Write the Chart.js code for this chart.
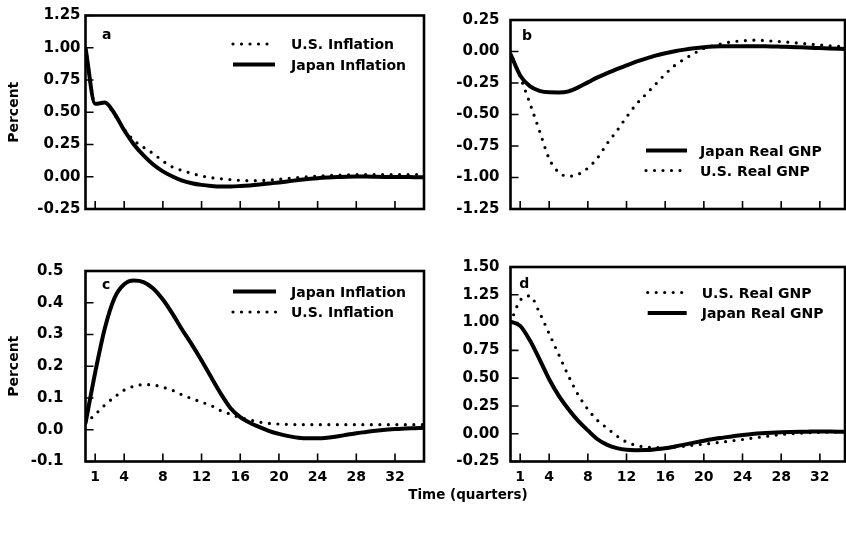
<!DOCTYPE html>
<html>
<head>
<meta charset="utf-8">
<title>Impulse responses</title>
<script src="https://cdn.jsdelivr.net/npm/chart.js@4.4.0/dist/chart.umd.min.js"></script>
<style>
  body { margin: 0; background: #fff; }
  #wrap { position: relative; width: 846px; height: 535px; overflow: hidden; background: #fff; }
  .panel { position: absolute; }
  #xtitle {
    position: absolute; left: 368px; width: 200px; top: 486px;
    text-align: center; font: bold 13.5px "DejaVu Sans"; color: #000;
  }
</style>
</head>
<body>
<div id="wrap">
  <div class="panel" style="left:0;top:0"><canvas id="pa" width="430" height="240"></canvas></div>
  <div class="panel" style="left:430px;top:0"><canvas id="pb" width="416" height="240"></canvas></div>
  <div class="panel" style="left:0;top:240px"><canvas id="pc" width="430" height="260"></canvas></div>
  <div class="panel" style="left:430px;top:240px"><canvas id="pd" width="416" height="260"></canvas></div>
  <div id="xtitle">Time (quarters)</div>
</div>
<script>
// Quarters after the shock
const QUARTERS = [0, 1, 2, 3, 4, 5, 6, 7, 8, 9, 10, 11, 12, 13, 14, 15, 16, 17,
  18, 19, 20, 21, 22, 23, 24, 25, 26, 27, 28, 29, 30, 31, 32, 33, 34, 35];
const X_TICKS = [1, 4, 8, 12, 16, 20, 24, 28, 32];
const X_LABELS = ['1', '4', '8', '12', '16', '20', '24', '28', '32'];

// Panel a
const A_US_INFLATION = [1.00, 0.565, 0.575, 0.48, 0.368, 0.282, 0.228, 0.18, 0.122, 0.075, 0.048, 0.026,
  0.006, -0.007, -0.016, -0.022, -0.028, -0.031, -0.03, -0.026, -0.02, -0.013, -0.006, 0.0,
  0.005, 0.009, 0.012, 0.014, 0.016, 0.017, 0.017, 0.017, 0.017, 0.017, 0.017, 0.017];
const A_JAPAN_INFLATION = [1.00, 0.565, 0.575, 0.49, 0.36, 0.25, 0.165, 0.095, 0.042, 0.002, -0.03, -0.05,
  -0.063, -0.071, -0.075, -0.075, -0.072, -0.067, -0.06, -0.052, -0.044, -0.035, -0.026, -0.018,
  -0.011, -0.006, -0.002, 0.0, 0.001, 0.001, 0.0, -0.001, -0.002, -0.002, -0.003, -0.003];
const A_Y_TICKS = [-0.25, 0, 0.25, 0.5, 0.75, 1.0, 1.25];
const A_Y_LABELS = ['-0.25', '0.00', '0.25', '0.50', '0.75', '1.00', '1.25'];

// Panel b
const B_JAPAN_GNP = [-0.02, -0.19, -0.275, -0.312, -0.324, -0.325, -0.316, -0.285, -0.245, -0.205, -0.172, -0.14,
  -0.11, -0.081, -0.056, -0.033, -0.014, 0.002, 0.015, 0.026, 0.034, 0.039, 0.041, 0.042,
  0.042, 0.042, 0.041, 0.04, 0.038, 0.036, 0.033, 0.03, 0.027, 0.024, 0.021, 0.018];
const B_US_GNP = [0.0, -0.2, -0.41, -0.63, -0.85, -0.96, -0.99, -0.975, -0.925, -0.845, -0.73, -0.63,
  -0.52, -0.42, -0.34, -0.26, -0.18, -0.11, -0.06, -0.015, 0.025, 0.045, 0.065, 0.078,
  0.085, 0.09, 0.088, 0.083, 0.078, 0.072, 0.065, 0.058, 0.052, 0.045, 0.04, 0.035];
const B_Y_TICKS = [-1.25, -1.0, -0.75, -0.5, -0.25, 0, 0.25];
const B_Y_LABELS = ['-1.25', '-1.00', '-0.75', '-0.50', '-0.25', '0.00', '0.25'];

// Panel c
const C_JAPAN_INFLATION = [0.02, 0.18, 0.32, 0.415, 0.458, 0.47, 0.465, 0.445, 0.41, 0.365, 0.315, 0.268,
  0.218, 0.165, 0.113, 0.068, 0.04, 0.022, 0.008, -0.004, -0.013, -0.02, -0.025, -0.027,
  -0.027, -0.025, -0.021, -0.016, -0.011, -0.007, -0.003, 0.0, 0.002, 0.004, 0.005, 0.006];
const C_US_INFLATION = [0.02, 0.048, 0.078, 0.103, 0.125, 0.137, 0.142, 0.141, 0.134, 0.124, 0.11, 0.098,
  0.087, 0.076, 0.06, 0.049, 0.038, 0.031, 0.024, 0.02, 0.018, 0.017, 0.016, 0.016,
  0.016, 0.016, 0.016, 0.016, 0.016, 0.016, 0.016, 0.016, 0.016, 0.016, 0.016, 0.016];
const C_Y_TICKS = [-0.1, 0, 0.1, 0.2, 0.3, 0.4, 0.5];
const C_Y_LABELS = ['-0.1', '0.0', '0.1', '0.2', '0.3', '0.4', '0.5'];

// Panel d
const D_US_GNP = [1.0, 1.2, 1.24, 1.09, 0.9, 0.71, 0.52, 0.35, 0.22, 0.12, 0.05, -0.02,
  -0.075, -0.105, -0.12, -0.125, -0.125, -0.12, -0.112, -0.102, -0.094, -0.085, -0.074, -0.063,
  -0.052, -0.04, -0.029, -0.018, -0.007, 0.0, 0.005, 0.009, 0.012, 0.014, 0.015, 0.016];
const D_JAPAN_GNP = [1.01, 0.97, 0.84, 0.67, 0.49, 0.34, 0.22, 0.115, 0.03, -0.05, -0.1, -0.13,
  -0.145, -0.148, -0.147, -0.14, -0.13, -0.115, -0.098, -0.08, -0.063, -0.048, -0.035, -0.022,
  -0.012, -0.003, 0.004, 0.009, 0.013, 0.016, 0.018, 0.019, 0.02, 0.019, 0.018, 0.017];
const D_Y_TICKS = [-0.25, 0, 0.25, 0.5, 0.75, 1.0, 1.25, 1.5];
const D_Y_LABELS = ['-0.25', '0.00', '0.25', '0.50', '0.75', '1.00', '1.25', '1.50'];

const FONT = '"DejaVu Sans"';

// Frame, inward ticks, panel letter and legend
function framePlugin(cfg) {
  return {
    id: 'frame',
    afterDraw(chart) {
      const { ctx, chartArea: a, scales: { x, y } } = chart;
      ctx.save();
      ctx.strokeStyle = '#000';
      ctx.lineWidth = 2.6;
      ctx.strokeRect(a.left, a.top, a.right - a.left, a.bottom - a.top);

      ctx.lineWidth = 1.6;
      ctx.beginPath();
      x.ticks.forEach(t => {
        const px = x.getPixelForValue(t.value);
        ctx.moveTo(px, a.bottom);
        ctx.lineTo(px, a.bottom - 8);
      });
      y.ticks.forEach(t => {
        const py = y.getPixelForValue(t.value);
        ctx.moveTo(a.left, py);
        ctx.lineTo(a.left + 8, py);
      });
      ctx.stroke();

      ctx.fillStyle = '#000';
      ctx.font = 'bold 14px ' + FONT;
      ctx.textBaseline = 'alphabetic';
      ctx.fillText(cfg.letter[0], cfg.letter[1], cfg.letter[2]);

      const lg = cfg.legend;
      chart.data.datasets.forEach((ds, i) => {
        const ry = lg.rows[i];
        ctx.beginPath();
        ctx.lineWidth = ds.borderWidth;
        ctx.lineCap = ds.borderCapStyle;
        ctx.setLineDash(ds.borderDash);
        ctx.moveTo(lg.x1, ry);
        ctx.lineTo(lg.x2, ry);
        ctx.stroke();
        ctx.setLineDash([]);
        ctx.fillText(ds.label, lg.tx, ry + 5);
      });
      ctx.restore();
    }
  };
}

function makePanel(id, cfg) {
  const datasets = cfg.series.map(s => ({
    label: s.label,
    data: QUARTERS.map((q, i) => ({ x: q, y: s.values[i] })),
    borderColor: '#000',
    borderWidth: s.dotted ? 3.2 : 4,
    borderDash: s.dotted ? [0, 8.5] : [],
    borderCapStyle: s.dotted ? 'round' : 'butt',
    borderJoinStyle: 'round',
    pointRadius: 0,
    cubicInterpolationMode: 'monotone',
    fill: false
  }));

  new Chart(document.getElementById(id), {
    type: 'line',
    data: { datasets },
    options: {
      responsive: false,
      animation: false,
      events: [],
      layout: { padding: { top: cfg.area.top, right: cfg.area.right, left: 0, bottom: 0 } },
      plugins: { legend: { display: false }, tooltip: { enabled: false } },
      scales: {
        x: {
          type: 'linear',
          min: 0,
          max: cfg.xMax,
          afterBuildTicks: s => { s.ticks = X_TICKS.map(v => ({ value: v })); },
          afterFit: s => { s.height = cfg.area.xh; },
          grid: { display: false, drawTicks: false },
          border: { display: false },
          ticks: {
            display: cfg.xLabels,
            autoSkip: false,
            maxRotation: 0,
            padding: 7.5,
            color: '#000',
            font: { family: FONT, size: 14, weight: 'bold' },
            callback: (v, i) => X_LABELS[i]
          }
        },
        y: {
          min: cfg.yTicks[0],
          max: cfg.yTicks[cfg.yTicks.length - 1],
          afterBuildTicks: s => { s.ticks = cfg.yTicks.map(v => ({ value: v })); },
          afterFit: s => { s.width = cfg.area.left; },
          grid: { display: false, drawTicks: false },
          border: { display: false },
          title: {
            display: cfg.yTitle,
            text: 'Percent',
            color: '#000',
            padding: { top: 5.5, bottom: 0 },
            font: { family: FONT, size: 14, weight: 'bold' }
          },
          ticks: {
            autoSkip: false,
            padding: cfg.yPad,
            color: '#000',
            font: { family: FONT, size: 15, weight: 'bold' },
            callback: (v, i) => cfg.yLabels[i]
          }
        }
      }
    },
    plugins: [framePlugin(cfg)]
  });
}

makePanel('pa', {
  series: [
    { label: 'U.S. Inflation', values: A_US_INFLATION, dotted: true },
    { label: 'Japan Inflation', values: A_JAPAN_INFLATION, dotted: false }
  ],
  yTicks: A_Y_TICKS, yLabels: A_Y_LABELS, yTitle: true, yPad: 5,
  xLabels: false, xMax: 35,
  area: { left: 85.5, top: 15.5, right: 6, xh: 31 },
  letter: ['a', 102, 38.5],
  legend: { rows: [44, 64.5], x1: 233, x2: 275, tx: 291 }
});

makePanel('pb', {
  series: [
    { label: 'Japan Real GNP', values: B_JAPAN_GNP, dotted: false },
    { label: 'U.S. Real GNP', values: B_US_GNP, dotted: true }
  ],
  yTicks: B_Y_TICKS, yLabels: B_Y_LABELS, yTitle: false, yPad: 11,
  xLabels: false, xMax: 34.6,
  area: { left: 80.5, top: 15.5, right: 1, xh: 31 },
  letter: ['b', 92, 40],
  legend: { rows: [150.5, 170.5], x1: 216, x2: 257, tx: 270 }
});

makePanel('pc', {
  series: [
    { label: 'Japan Inflation', values: C_JAPAN_INFLATION, dotted: false },
    { label: 'U.S. Inflation', values: C_US_INFLATION, dotted: true }
  ],
  yTicks: C_Y_TICKS, yLabels: C_Y_LABELS, yTitle: true, yPad: 22,
  xLabels: true, xMax: 35,
  area: { left: 85.5, top: 27, right: 6, xh: 38.5 },
  letter: ['c', 102, 48.5],
  legend: { rows: [51.5, 72], x1: 233, x2: 276, tx: 291 }
});

makePanel('pd', {
  series: [
    { label: 'U.S. Real GNP', values: D_US_GNP, dotted: true },
    { label: 'Japan Real GNP', values: D_JAPAN_GNP, dotted: false }
  ],
  yTicks: D_Y_TICKS, yLabels: D_Y_LABELS, yTitle: false, yPad: 11,
  xLabels: true, xMax: 34.6,
  area: { left: 80.5, top: 27, right: 1, xh: 38.5 },
  letter: ['d', 89.3, 48],
  legend: { rows: [52.5, 73], x1: 217.7, x2: 256.7, tx: 271.7 }
});
</script>
</body>
</html>
